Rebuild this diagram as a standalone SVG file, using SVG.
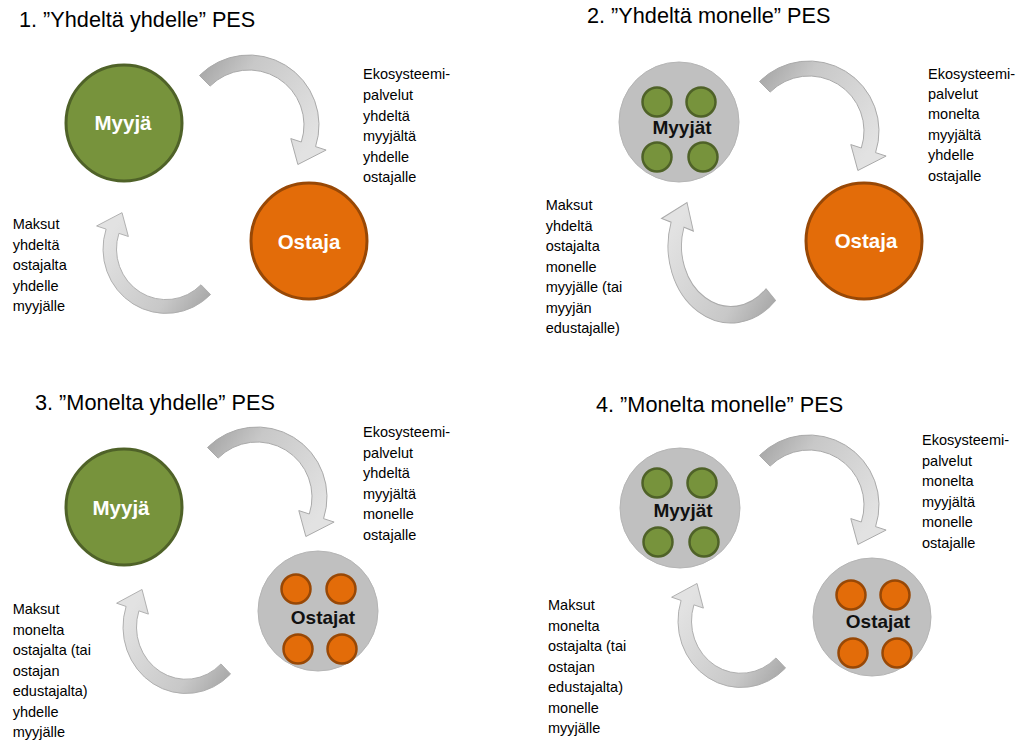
<svg xmlns="http://www.w3.org/2000/svg" xmlns:xlink="http://www.w3.org/1999/xlink" width="1030" height="740" viewBox="0 0 1030 740">
<style>
.title{font-family:"Liberation Sans",Arial,sans-serif;font-size:21.7px;fill:#000}
.body{font-family:"Liberation Sans",Arial,sans-serif;font-size:14.5px;fill:#000}
.wl{font-family:"Liberation Sans",Arial,sans-serif;font-size:20.5px;font-weight:bold;fill:#fff;text-anchor:middle}
.dl{font-family:"Liberation Sans",Arial,sans-serif;font-size:19px;font-weight:bold;fill:#111;text-anchor:middle}
.green{fill:#77933c;stroke:#4f6228;stroke-width:3}
.orange{fill:#e36c09;stroke:#984806;stroke-width:3}
.sg{fill:#77933c;stroke:#4f6228;stroke-width:2.5}
.so{fill:#e36c09;stroke:#984806;stroke-width:2.5}
.gray{fill:#c0c0c0;stroke:#b5b5b5;stroke-width:1}
.arr{fill:url(#ag);stroke:#aaaaaa;stroke-width:1}
</style>
<defs>
<linearGradient id="ag" x1="0" y1="0" x2="1" y2="0.6">
<stop offset="0" stop-color="#a0a0a0"/>
<stop offset="0.35" stop-color="#c8c8c8"/>
<stop offset="1" stop-color="#e2e2e2"/>
</linearGradient>
<path id="carrow" class="arr" d="M -49.5 -49.5 A 70 70 0 0 1 66.57 21.63 L 77.1 25.05 L 48.86 39.5 L 41.8 13.58 L 52.31 17 A 55 55 0 0 0 -38.89 -38.89 Z"/>
</defs>
<rect width="1030" height="740" fill="#fff"/>

<g id="titles">
<text class="title" x="19" y="27">1. ”Yhdeltä yhdelle” PES</text>
<text class="title" x="587" y="23">2. ”Yhdeltä monelle” PES</text>
<text class="title" x="35" y="410">3. ”Monelta yhdelle” PES</text>
<text class="title" x="596" y="412">4. ”Monelta monelle” PES</text>
</g>

<g id="connectors">
<use xlink:href="#carrow" transform="translate(249,125)"/>
<use xlink:href="#carrow" transform="translate(166,249) rotate(180) scale(0.9,0.92)"/>
<use xlink:href="#carrow" transform="translate(809,131)"/>
<use xlink:href="#carrow" transform="translate(731,246) rotate(180) scale(0.9,1.1)"/>
<use xlink:href="#carrow" transform="translate(257,497)"/>
<use xlink:href="#carrow" transform="translate(186,627) rotate(180) scale(0.9,0.95)"/>
<use xlink:href="#carrow" transform="translate(809,505)"/>
<use xlink:href="#carrow" transform="translate(741,621) rotate(180) scale(0.9,0.95)"/>
</g>

<g id="p1-myyja">
<circle class="green" cx="124" cy="123" r="58"/>
<text class="wl" x="123" y="130">Myyjä</text>
</g>
<g id="p1-ostaja">
<circle class="orange" cx="309" cy="241" r="58"/>
<text class="wl" x="309" y="249">Ostaja</text>
</g>

<g id="p2-myyjat">
<circle class="gray" cx="679" cy="122" r="60"/>
<circle class="sg" cx="657" cy="102" r="14.5"/>
<circle class="sg" cx="701" cy="102" r="14.5"/>
<circle class="sg" cx="657" cy="157" r="14.5"/>
<circle class="sg" cx="703" cy="157" r="14.5"/>
<text class="dl" x="682" y="134">Myyjät</text>
</g>
<g id="p2-ostaja">
<circle class="orange" cx="864" cy="241" r="58"/>
<text class="wl" x="866" y="248">Ostaja</text>
</g>

<g id="p3-myyja">
<circle class="green" cx="124" cy="507" r="58"/>
<text class="wl" x="121" y="515">Myyjä</text>
</g>
<g id="p3-ostajat">
<circle class="gray" cx="318" cy="611" r="60"/>
<circle class="so" cx="296" cy="589" r="14.5"/>
<circle class="so" cx="341" cy="589" r="14.5"/>
<circle class="so" cx="298" cy="649" r="14.5"/>
<circle class="so" cx="342" cy="649" r="14.5"/>
<text class="dl" x="323" y="624">Ostajat</text>
</g>

<g id="p4-myyjat">
<circle class="gray" cx="680" cy="508" r="60"/>
<circle class="sg" cx="657" cy="483" r="14.5"/>
<circle class="sg" cx="702" cy="483" r="14.5"/>
<circle class="sg" cx="658" cy="542" r="14.5"/>
<circle class="sg" cx="704" cy="542" r="14.5"/>
<text class="dl" x="683" y="517">Myyjät</text>
</g>
<g id="p4-ostajat">
<circle class="gray" cx="872" cy="617" r="59"/>
<circle class="so" cx="851" cy="595" r="14.5"/>
<circle class="so" cx="895" cy="595" r="14.5"/>
<circle class="so" cx="853" cy="653" r="14.5"/>
<circle class="so" cx="897" cy="653" r="14.5"/>
<text class="dl" x="878" y="628">Ostajat</text>
</g>

<g id="labels">
<text class="body" x="363" y="79.3"><tspan x="363">Ekosysteemi-</tspan><tspan x="363" dy="20.6">palvelut</tspan><tspan x="363" dy="20.6">yhdeltä</tspan><tspan x="363" dy="20.6">myyjältä</tspan><tspan x="363" dy="20.6">yhdelle</tspan><tspan x="363" dy="20.6">ostajalle</tspan></text>
<text class="body" x="12.7" y="229"><tspan x="12.7">Maksut</tspan><tspan x="12.7" dy="20.5">yhdeltä</tspan><tspan x="12.7" dy="20.5">ostajalta</tspan><tspan x="12.7" dy="20.5">yhdelle</tspan><tspan x="12.7" dy="20.5">myyjälle</tspan></text>
<text class="body" x="928" y="78.5"><tspan x="928">Ekosysteemi-</tspan><tspan x="928" dy="20.4">palvelut</tspan><tspan x="928" dy="20.4">monelta</tspan><tspan x="928" dy="20.4">myyjältä</tspan><tspan x="928" dy="20.4">yhdelle</tspan><tspan x="928" dy="20.4">ostajalle</tspan></text>
<text class="body" x="545.7" y="210"><tspan x="545.7">Maksut</tspan><tspan x="545.7" dy="20.5">yhdeltä</tspan><tspan x="545.7" dy="20.5">ostajalta</tspan><tspan x="545.7" dy="20.5">monelle</tspan><tspan x="545.7" dy="20.5">myyjälle (tai</tspan><tspan x="545.7" dy="20.5">myyjän</tspan><tspan x="545.7" dy="20.5">edustajalle)</tspan></text>
<text class="body" x="363" y="437"><tspan x="363">Ekosysteemi-</tspan><tspan x="363" dy="20.6">palvelut</tspan><tspan x="363" dy="20.6">yhdeltä</tspan><tspan x="363" dy="20.6">myyjältä</tspan><tspan x="363" dy="20.6">monelle</tspan><tspan x="363" dy="20.6">ostajalle</tspan></text>
<text class="body" x="12.7" y="614"><tspan x="12.7">Maksut</tspan><tspan x="12.7" dy="20.5">monelta</tspan><tspan x="12.7" dy="20.5">ostajalta (tai</tspan><tspan x="12.7" dy="20.5">ostajan</tspan><tspan x="12.7" dy="20.5">edustajalta)</tspan><tspan x="12.7" dy="20.5">yhdelle</tspan><tspan x="12.7" dy="20.5">myyjälle</tspan></text>
<text class="body" x="922" y="445"><tspan x="922">Ekosysteemi-</tspan><tspan x="922" dy="20.6">palvelut</tspan><tspan x="922" dy="20.6">monelta</tspan><tspan x="922" dy="20.6">myyjältä</tspan><tspan x="922" dy="20.6">monelle</tspan><tspan x="922" dy="20.6">ostajalle</tspan></text>
<text class="body" x="548" y="610"><tspan x="548">Maksut</tspan><tspan x="548" dy="20.5">monelta</tspan><tspan x="548" dy="20.5">ostajalta (tai</tspan><tspan x="548" dy="20.5">ostajan</tspan><tspan x="548" dy="20.5">edustajalta)</tspan><tspan x="548" dy="20.5">monelle</tspan><tspan x="548" dy="20.5">myyjälle</tspan></text>
</g>
</svg>
